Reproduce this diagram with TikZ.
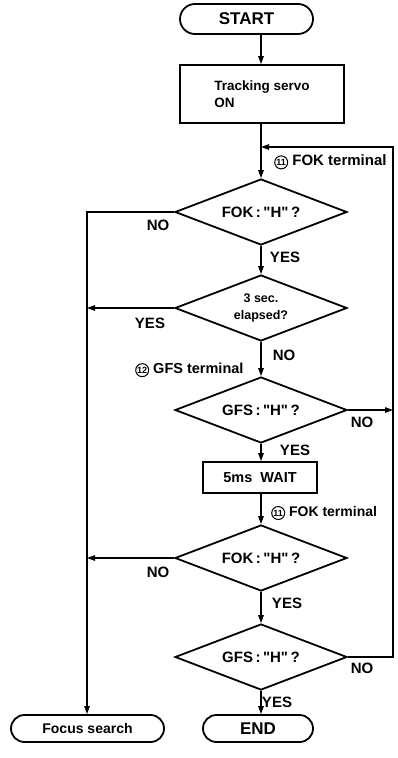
\documentclass[tikz,border=0pt]{standalone}
\usepackage{fontspec}
\setmainfont{Liberation Sans}[Ligatures=TeXOff]
\usetikzlibrary{shapes.geometric,arrows.meta}
\newcommand\cnum[1]{\tikz[baseline=(cnx.base)]\node[circle,draw,line width=1pt,inner sep=0pt,minimum size=13pt,font=\fontsize{9}{9}\selectfont\bfseries](cnx){#1};}
\newcommand\qH{"H"}
\begin{document}
\begin{tikzpicture}[x=1pt,y=-1pt,
  box/.style={draw,line width=1.8pt,inner sep=2pt},
  term/.style={box,rounded corners=#1},
  dec/.style={draw,diamond,line width=1.8pt,aspect=2.6,minimum width=172pt,minimum height=66pt,inner sep=0pt,align=center,font=\fontsize{15}{17}\selectfont\bfseries},
  conn/.style={line width=1.2pt,-{Triangle[length=8pt,width=5.5pt]}},
  big/.style={font=\fontsize{17}{19}\selectfont\bfseries},
  mid/.style={font=\fontsize{14.5}{17}\selectfont\bfseries},
  yn/.style={font=\fontsize{15}{17}\selectfont\bfseries,inner sep=0pt},
  small/.style={font=\fontsize{#1}{16}\selectfont\bfseries,inner sep=0pt,anchor=west},
]
\useasboundingbox (0,0) rectangle (398,758);

% nodes
\node[term=15pt,big,minimum width=133pt,minimum height=30pt] (start) at (246.5,19) {START};
\node[box,minimum width=164pt,minimum height=58pt,align=left,font=\fontsize{13.5}{17}\selectfont\bfseries] (track) at (262,94) {Tracking servo\\ON};
\node[dec] (d1) at (261,212) {FOK\,:\,\qH\,?};
\node[dec,font=\fontsize{12.5}{17}\selectfont\bfseries] (d2) at (261,308) {3 sec.\\elapsed?};
\node[dec] (d3) at (261,410) {GFS\,:\,\qH\,?};
\node[box,mid,minimum width=114pt,minimum height=31pt] (wait) at (260,477.5) {5ms\ \ WAIT};
\node[dec] (d4) at (261,558) {FOK\,:\,\qH\,?};
\node[dec] (d5) at (261,657) {GFS\,:\,\qH\,?};
\node[term=13.5pt,minimum width=153pt,minimum height=27pt,font=\fontsize{14}{16}\selectfont\bfseries] (focus) at (87.5,728.5) {Focus search};
\node[term=13.5pt,big,minimum width=110pt,minimum height=27pt] (end) at (258,728.5) {END};

% helper coordinates
\coordinate (join) at (261,147);
\coordinate (rtop) at (393,147);
\coordinate (lx) at (87,0);

% labels
\node[small=15] (lab1) at (274,162) {\cnum{11} FOK terminal};
\node[small=14.5] (lab2) at (135,370) {\cnum{12} GFS terminal};
\node[small=14] (lab3) at (271,513) {\cnum{11} FOK terminal};

\node[yn] (n1) at (158,225) {NO};
\node[yn] (y1) at (285,257) {YES};
\node[yn] (y2) at (150,323) {YES};
\node[yn] (n2) at (284,355) {NO};
\node[yn] (n3) at (362,422) {NO};
\node[yn] (y3) at (295,450) {YES};
\node[yn] (n4) at (158,572) {NO};
\node[yn] (y4) at (287,603) {YES};
\node[yn] (n5) at (362,668) {NO};
\node[yn] (y5) at (277,702) {YES};

% connectors
\draw[conn] (start.south -| d1.north) -- (d1.north |- track.north);
\draw[conn] (track.south -| d1.north) -- (d1.north);
\draw[conn] (d1.south) -- (d2.north);
\draw[conn] (d2.south) -- (d3.north);
\draw[conn] (d3.south) -- (wait.north -| d3.south);
\draw[conn] (wait.south -| d4.north) -- (d4.north);
\draw[conn] (d4.south) -- (d5.north);
\draw[conn] (d5.south) -- (d5.south |- end.north);

\draw[conn] (d1.west) -- (d1.west -| lx) -- (lx |- focus.north);
\draw[conn] (d2.west) -- (d2.west -| lx);
\draw[conn] (d4.west) -- (d4.west -| lx);
\draw[conn] (d3.east) -- (d3.east -| rtop);
\draw[conn] (d5.east) -- (d5.east -| rtop) -- (rtop) -- (join);
\end{tikzpicture}
\end{document}
